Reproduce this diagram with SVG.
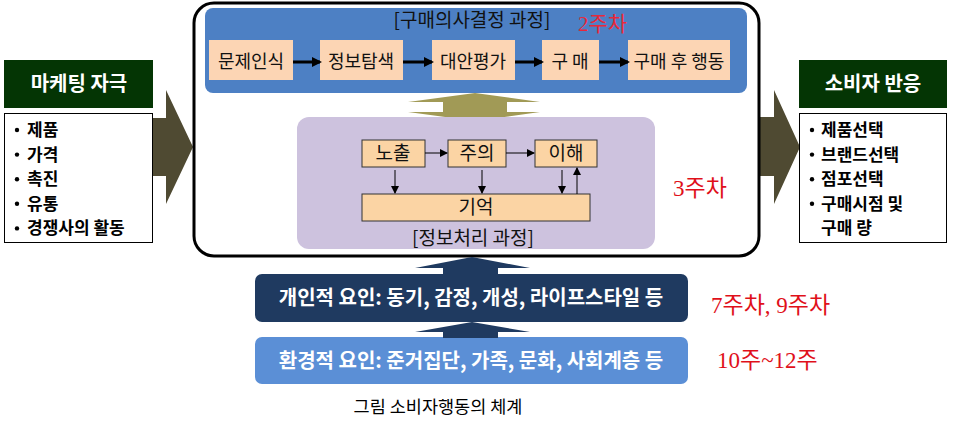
<svg xmlns="http://www.w3.org/2000/svg" width="953" height="426" viewBox="0 0 953 426">
<defs>
<style>
.k{font-family:"Noto Sans CJK KR","Liberation Sans",sans-serif;}
.step{fill:#FCD5B4;}
.st{font-size:18px;fill:#111;text-anchor:middle;}
.ip{fill:#FBD4A4;stroke:#333;stroke-width:1;}
.it{font-size:19px;fill:#111;text-anchor:middle;}
.red{font-family:"Liberation Serif","Noto Sans CJK KR",serif;font-size:23px;fill:#E0101A;}
.li{font-size:17px;font-weight:bold;fill:#000;}
.wh{fill:#fff;font-weight:bold;text-anchor:middle;}
</style>
<marker id="ah" markerWidth="10" markerHeight="10" refX="8" refY="5" orient="auto" markerUnits="userSpaceOnUse">
<path d="M0,0 L10,5 L0,10 Z" fill="#000"/>
</marker>
<marker id="as" markerWidth="8" markerHeight="8" refX="7" refY="4" orient="auto" markerUnits="userSpaceOnUse">
<path d="M0,0 L8,4 L0,8 Z" fill="#000"/>
</marker>
</defs>
<rect width="953" height="426" fill="#fff"/>

<!-- big side arrows -->
<g id="arrow-left">
<polygon points="150,118 166,118 166,90 193,147 166,204 166,176 150,176" fill="#4F4A32"/>
</g>
<g id="arrow-right">
<polygon points="758,117 774,117 774,90 800,147 774,204 774,176 758,176" fill="#4F4A32"/>
</g>

<!-- main frame -->
<g id="main-frame">
<rect x="194" y="3" width="565" height="253" rx="20" fill="#fff" stroke="#000" stroke-width="3"/>
</g>

<!-- purchase decision process -->
<g id="decision-process">
<rect x="205" y="8" width="542" height="85" rx="8" fill="#4D80C4"/>
<text class="k" x="472" y="27" font-size="19" fill="#111" text-anchor="middle">[구매의사결정 과정]</text>
<text x="578" y="31" font-size="21" fill="#E8283A" style="font-family:'Liberation Serif','Noto Sans CJK KR',serif">2주차</text>
</g>
<g id="step1"><rect class="step" x="209" y="40" width="84" height="40"/><text class="k st" x="251" y="68">문제인식</text></g>
<g id="step2"><rect class="step" x="320" y="40" width="83" height="40"/><text class="k st" x="361" y="68">정보탐색</text></g>
<g id="step3"><rect class="step" x="432" y="40" width="83" height="40"/><text class="k st" x="473" y="68">대안평가</text></g>
<g id="step4"><rect class="step" x="542" y="40" width="57" height="40"/><text class="k st" x="570" y="68">구 매</text></g>
<g id="step5"><rect class="step" x="628" y="40" width="102" height="40"/><text class="k st" x="679" y="68">구매 후 행동</text></g>

<!-- double arrow -->
<g id="double-arrow">
<polygon points="475,93 540,102 507,102 507,112 540,112 475,121 408,112 443,112 443,102 408,102" fill="#A19A56"/>
</g>

<!-- information processing -->
<g id="info-process">
<rect x="297" y="117" width="358" height="132" rx="12" fill="#CDC2DE"/>
<text class="k" x="473" y="245" font-size="19" fill="#111" text-anchor="middle">[정보처리 과정]</text>
</g>
<g id="exposure"><rect class="ip" x="362" y="140" width="63" height="27"/><text class="k it" x="393" y="160">노출</text></g>
<g id="attention"><rect class="ip" x="448" y="140" width="58" height="27"/><text class="k it" x="477" y="160">주의</text></g>
<g id="comprehension"><rect class="ip" x="535" y="140" width="62" height="27"/><text class="k it" x="566" y="160">이해</text></g>
<g id="memory"><rect class="ip" x="362" y="194" width="228" height="27"/><text class="k it" x="476" y="214">기억</text></g>

<!-- factor boxes -->
<g id="personal-factors">
<rect x="255" y="274" width="433" height="48" rx="7" fill="#1F3A60"/>
<text class="k wh" x="471" y="305" font-size="20">개인적 요인: 동기, 감정, 개성, 라이프스타일 등</text>
</g>
<g id="env-factors">
<rect x="255" y="337" width="433" height="47" rx="7" fill="#5B8FD6"/>
<text class="k wh" x="471" y="368" font-size="20">환경적 요인: 준거집단, 가족, 문화, 사회계층 등</text>
</g>

<!-- marketing stimulus -->
<g id="marketing">
<rect x="4" y="60" width="149" height="48" fill="#043504"/>
<text class="k wh" x="79" y="91" font-size="20">마케팅 자극</text>
<rect x="4.5" y="113.5" width="148" height="129" fill="#fff" stroke="#000" stroke-width="1"/>
<g fill="#000">
<circle cx="17" cy="130" r="2.2"/><circle cx="17" cy="154.6" r="2.2"/><circle cx="17" cy="179.2" r="2.2"/><circle cx="17" cy="203.8" r="2.2"/><circle cx="17" cy="228.4" r="2.2"/>
</g>
<g class="k li">
<text x="27" y="136">제품</text>
<text x="27" y="160.6">가격</text>
<text x="27" y="185.2">촉진</text>
<text x="27" y="209.8">유통</text>
<text x="27" y="234.4">경쟁사의 활동</text>
</g>
</g>

<!-- consumer response -->
<g id="response">
<rect x="799" y="60" width="148" height="48" fill="#043504"/>
<text class="k wh" x="873" y="91" font-size="20">소비자 반응</text>
<rect x="799.5" y="113.5" width="147" height="129" fill="#fff" stroke="#000" stroke-width="1"/>
<g fill="#000">
<circle cx="812" cy="130" r="2.2"/><circle cx="812" cy="154.6" r="2.2"/><circle cx="812" cy="179.2" r="2.2"/><circle cx="812" cy="203.8" r="2.2"/>
</g>
<g class="k li">
<text x="821" y="136">제품선택</text>
<text x="821" y="160.6">브랜드선택</text>
<text x="821" y="185.2">점포선택</text>
<text x="821" y="209.8">구매시점 및</text>
<text x="821" y="234.4">구매 량</text>
</g>
</g>

<!-- connectors -->
<g id="connectors">
<line x1="293" y1="62" x2="320" y2="62" stroke="#000" stroke-width="3" marker-end="url(#ah)"/>
<line x1="403" y1="62" x2="432" y2="62" stroke="#000" stroke-width="3" marker-end="url(#ah)"/>
<line x1="515" y1="62" x2="542" y2="62" stroke="#000" stroke-width="3" marker-end="url(#ah)"/>
<line x1="599" y1="62" x2="628" y2="62" stroke="#000" stroke-width="3" marker-end="url(#ah)"/>
<line x1="425" y1="153" x2="447" y2="153" stroke="#000" stroke-width="1" marker-end="url(#as)"/>
<line x1="506" y1="153" x2="534" y2="153" stroke="#000" stroke-width="1" marker-end="url(#as)"/>
<line x1="395" y1="170" x2="395" y2="193" stroke="#000" stroke-width="1" marker-end="url(#as)"/>
<line x1="482" y1="170" x2="482" y2="193" stroke="#000" stroke-width="1" marker-end="url(#as)"/>
<line x1="562" y1="170" x2="562" y2="193" stroke="#000" stroke-width="1" marker-end="url(#as)"/>
<line x1="577" y1="194" x2="577" y2="168" stroke="#000" stroke-width="1" marker-end="url(#as)"/>
<polygon points="472,257 530,268 498,268 498,275 443,275 443,268 415,268" fill="#1F3A60"/>
<polygon points="472,322 530,332 498,332 498,338 443,338 443,332 415,332" fill="#1F3A60"/>
</g>

<!-- week labels -->
<text class="red" x="673" y="196">3주차</text>
<text class="red" x="711" y="313">7주차, 9주차</text>
<text class="red" x="717" y="368">10주~12주</text>

<!-- caption -->
<text class="k" x="438" y="413" font-size="17.5" fill="#000" text-anchor="middle">그림 소비자행동의 체계</text>
</svg>
